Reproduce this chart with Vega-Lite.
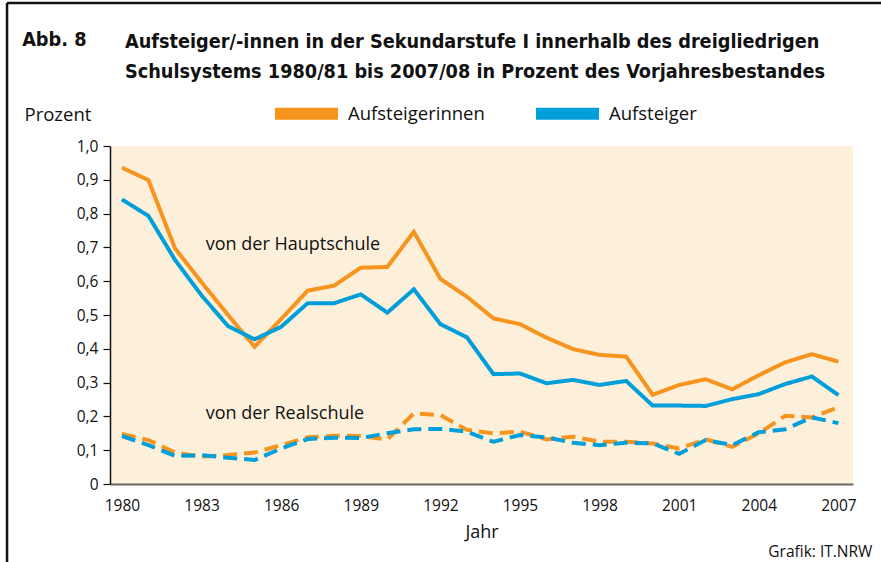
{
  "$schema": "https://vega.github.io/schema/vega-lite/v6.json",
  "width": 743,
  "height": 338,
  "autosize": {"type": "none"},
  "padding": {"left": 110, "top": 146, "right": 28, "bottom": 78},
  "background": "white",
  "config": {
    "view": {"fill": "#FDF0DB", "stroke": null},
    "font": "Open Sans",
    "locale": {"number": {"decimal": ",", "thousands": ".", "grouping": [3], "currency": ["", " €"]}},
    "axis": {"labelOverlap": false}
  },
  "title": {
    "text": ["Aufsteiger/-innen in der Sekundarstufe I innerhalb des dreigliedrigen", "Schulsystems 1980/81 bis 2007/08 in Prozent des Vorjahresbestandes"],
    "anchor": "start",
    "frame": "group",
    "dx": 15,
    "offset": -80,
    "font": "Liberation Sans Narrow, DejaVu Sans Condensed, Open Sans",
    "fontSize": 19.7,
    "fontWeight": "bold",
    "color": "#111111",
    "lineHeight": 30
  },
  "data": {
    "values": [
      {"Jahr": 1980, "Gruppe": "Aufsteigerinnen", "Schule": "Hauptschule", "Wert": 0.936},
      {"Jahr": 1981, "Gruppe": "Aufsteigerinnen", "Schule": "Hauptschule", "Wert": 0.899},
      {"Jahr": 1982, "Gruppe": "Aufsteigerinnen", "Schule": "Hauptschule", "Wert": 0.697},
      {"Jahr": 1983, "Gruppe": "Aufsteigerinnen", "Schule": "Hauptschule", "Wert": 0.597},
      {"Jahr": 1984, "Gruppe": "Aufsteigerinnen", "Schule": "Hauptschule", "Wert": 0.500},
      {"Jahr": 1985, "Gruppe": "Aufsteigerinnen", "Schule": "Hauptschule", "Wert": 0.406},
      {"Jahr": 1986, "Gruppe": "Aufsteigerinnen", "Schule": "Hauptschule", "Wert": 0.488},
      {"Jahr": 1987, "Gruppe": "Aufsteigerinnen", "Schule": "Hauptschule", "Wert": 0.572},
      {"Jahr": 1988, "Gruppe": "Aufsteigerinnen", "Schule": "Hauptschule", "Wert": 0.587},
      {"Jahr": 1989, "Gruppe": "Aufsteigerinnen", "Schule": "Hauptschule", "Wert": 0.640},
      {"Jahr": 1990, "Gruppe": "Aufsteigerinnen", "Schule": "Hauptschule", "Wert": 0.642},
      {"Jahr": 1991, "Gruppe": "Aufsteigerinnen", "Schule": "Hauptschule", "Wert": 0.746},
      {"Jahr": 1992, "Gruppe": "Aufsteigerinnen", "Schule": "Hauptschule", "Wert": 0.607},
      {"Jahr": 1993, "Gruppe": "Aufsteigerinnen", "Schule": "Hauptschule", "Wert": 0.554},
      {"Jahr": 1994, "Gruppe": "Aufsteigerinnen", "Schule": "Hauptschule", "Wert": 0.490},
      {"Jahr": 1995, "Gruppe": "Aufsteigerinnen", "Schule": "Hauptschule", "Wert": 0.473},
      {"Jahr": 1996, "Gruppe": "Aufsteigerinnen", "Schule": "Hauptschule", "Wert": 0.433},
      {"Jahr": 1997, "Gruppe": "Aufsteigerinnen", "Schule": "Hauptschule", "Wert": 0.399},
      {"Jahr": 1998, "Gruppe": "Aufsteigerinnen", "Schule": "Hauptschule", "Wert": 0.382},
      {"Jahr": 1999, "Gruppe": "Aufsteigerinnen", "Schule": "Hauptschule", "Wert": 0.377},
      {"Jahr": 2000, "Gruppe": "Aufsteigerinnen", "Schule": "Hauptschule", "Wert": 0.264},
      {"Jahr": 2001, "Gruppe": "Aufsteigerinnen", "Schule": "Hauptschule", "Wert": 0.293},
      {"Jahr": 2002, "Gruppe": "Aufsteigerinnen", "Schule": "Hauptschule", "Wert": 0.310},
      {"Jahr": 2003, "Gruppe": "Aufsteigerinnen", "Schule": "Hauptschule", "Wert": 0.280},
      {"Jahr": 2004, "Gruppe": "Aufsteigerinnen", "Schule": "Hauptschule", "Wert": 0.322},
      {"Jahr": 2005, "Gruppe": "Aufsteigerinnen", "Schule": "Hauptschule", "Wert": 0.360},
      {"Jahr": 2006, "Gruppe": "Aufsteigerinnen", "Schule": "Hauptschule", "Wert": 0.384},
      {"Jahr": 2007, "Gruppe": "Aufsteigerinnen", "Schule": "Hauptschule", "Wert": 0.362},
      {"Jahr": 1980, "Gruppe": "Aufsteiger", "Schule": "Hauptschule", "Wert": 0.842},
      {"Jahr": 1981, "Gruppe": "Aufsteiger", "Schule": "Hauptschule", "Wert": 0.793},
      {"Jahr": 1982, "Gruppe": "Aufsteiger", "Schule": "Hauptschule", "Wert": 0.663},
      {"Jahr": 1983, "Gruppe": "Aufsteiger", "Schule": "Hauptschule", "Wert": 0.558},
      {"Jahr": 1984, "Gruppe": "Aufsteiger", "Schule": "Hauptschule", "Wert": 0.467},
      {"Jahr": 1985, "Gruppe": "Aufsteiger", "Schule": "Hauptschule", "Wert": 0.428},
      {"Jahr": 1986, "Gruppe": "Aufsteiger", "Schule": "Hauptschule", "Wert": 0.465},
      {"Jahr": 1987, "Gruppe": "Aufsteiger", "Schule": "Hauptschule", "Wert": 0.535},
      {"Jahr": 1988, "Gruppe": "Aufsteiger", "Schule": "Hauptschule", "Wert": 0.535},
      {"Jahr": 1989, "Gruppe": "Aufsteiger", "Schule": "Hauptschule", "Wert": 0.561},
      {"Jahr": 1990, "Gruppe": "Aufsteiger", "Schule": "Hauptschule", "Wert": 0.507},
      {"Jahr": 1991, "Gruppe": "Aufsteiger", "Schule": "Hauptschule", "Wert": 0.576},
      {"Jahr": 1992, "Gruppe": "Aufsteiger", "Schule": "Hauptschule", "Wert": 0.473},
      {"Jahr": 1993, "Gruppe": "Aufsteiger", "Schule": "Hauptschule", "Wert": 0.434},
      {"Jahr": 1994, "Gruppe": "Aufsteiger", "Schule": "Hauptschule", "Wert": 0.325},
      {"Jahr": 1995, "Gruppe": "Aufsteiger", "Schule": "Hauptschule", "Wert": 0.327},
      {"Jahr": 1996, "Gruppe": "Aufsteiger", "Schule": "Hauptschule", "Wert": 0.298},
      {"Jahr": 1997, "Gruppe": "Aufsteiger", "Schule": "Hauptschule", "Wert": 0.308},
      {"Jahr": 1998, "Gruppe": "Aufsteiger", "Schule": "Hauptschule", "Wert": 0.293},
      {"Jahr": 1999, "Gruppe": "Aufsteiger", "Schule": "Hauptschule", "Wert": 0.305},
      {"Jahr": 2000, "Gruppe": "Aufsteiger", "Schule": "Hauptschule", "Wert": 0.232},
      {"Jahr": 2001, "Gruppe": "Aufsteiger", "Schule": "Hauptschule", "Wert": 0.232},
      {"Jahr": 2002, "Gruppe": "Aufsteiger", "Schule": "Hauptschule", "Wert": 0.231},
      {"Jahr": 2003, "Gruppe": "Aufsteiger", "Schule": "Hauptschule", "Wert": 0.251},
      {"Jahr": 2004, "Gruppe": "Aufsteiger", "Schule": "Hauptschule", "Wert": 0.266},
      {"Jahr": 2005, "Gruppe": "Aufsteiger", "Schule": "Hauptschule", "Wert": 0.296},
      {"Jahr": 2006, "Gruppe": "Aufsteiger", "Schule": "Hauptschule", "Wert": 0.318},
      {"Jahr": 2007, "Gruppe": "Aufsteiger", "Schule": "Hauptschule", "Wert": 0.263},
      {"Jahr": 1980, "Gruppe": "Aufsteigerinnen", "Schule": "Realschule", "Wert": 0.148},
      {"Jahr": 1981, "Gruppe": "Aufsteigerinnen", "Schule": "Realschule", "Wert": 0.130},
      {"Jahr": 1982, "Gruppe": "Aufsteigerinnen", "Schule": "Realschule", "Wert": 0.093},
      {"Jahr": 1983, "Gruppe": "Aufsteigerinnen", "Schule": "Realschule", "Wert": 0.081},
      {"Jahr": 1984, "Gruppe": "Aufsteigerinnen", "Schule": "Realschule", "Wert": 0.086},
      {"Jahr": 1985, "Gruppe": "Aufsteigerinnen", "Schule": "Realschule", "Wert": 0.093},
      {"Jahr": 1986, "Gruppe": "Aufsteigerinnen", "Schule": "Realschule", "Wert": 0.115},
      {"Jahr": 1987, "Gruppe": "Aufsteigerinnen", "Schule": "Realschule", "Wert": 0.138},
      {"Jahr": 1988, "Gruppe": "Aufsteigerinnen", "Schule": "Realschule", "Wert": 0.143},
      {"Jahr": 1989, "Gruppe": "Aufsteigerinnen", "Schule": "Realschule", "Wert": 0.142},
      {"Jahr": 1990, "Gruppe": "Aufsteigerinnen", "Schule": "Realschule", "Wert": 0.132},
      {"Jahr": 1991, "Gruppe": "Aufsteigerinnen", "Schule": "Realschule", "Wert": 0.209},
      {"Jahr": 1992, "Gruppe": "Aufsteigerinnen", "Schule": "Realschule", "Wert": 0.204},
      {"Jahr": 1993, "Gruppe": "Aufsteigerinnen", "Schule": "Realschule", "Wert": 0.160},
      {"Jahr": 1994, "Gruppe": "Aufsteigerinnen", "Schule": "Realschule", "Wert": 0.150},
      {"Jahr": 1995, "Gruppe": "Aufsteigerinnen", "Schule": "Realschule", "Wert": 0.155},
      {"Jahr": 1996, "Gruppe": "Aufsteigerinnen", "Schule": "Realschule", "Wert": 0.132},
      {"Jahr": 1997, "Gruppe": "Aufsteigerinnen", "Schule": "Realschule", "Wert": 0.140},
      {"Jahr": 1998, "Gruppe": "Aufsteigerinnen", "Schule": "Realschule", "Wert": 0.125},
      {"Jahr": 1999, "Gruppe": "Aufsteigerinnen", "Schule": "Realschule", "Wert": 0.125},
      {"Jahr": 2000, "Gruppe": "Aufsteigerinnen", "Schule": "Realschule", "Wert": 0.120},
      {"Jahr": 2001, "Gruppe": "Aufsteigerinnen", "Schule": "Realschule", "Wert": 0.105},
      {"Jahr": 2002, "Gruppe": "Aufsteigerinnen", "Schule": "Realschule", "Wert": 0.132},
      {"Jahr": 2003, "Gruppe": "Aufsteigerinnen", "Schule": "Realschule", "Wert": 0.110},
      {"Jahr": 2004, "Gruppe": "Aufsteigerinnen", "Schule": "Realschule", "Wert": 0.150},
      {"Jahr": 2005, "Gruppe": "Aufsteigerinnen", "Schule": "Realschule", "Wert": 0.202},
      {"Jahr": 2006, "Gruppe": "Aufsteigerinnen", "Schule": "Realschule", "Wert": 0.197},
      {"Jahr": 2007, "Gruppe": "Aufsteigerinnen", "Schule": "Realschule", "Wert": 0.227},
      {"Jahr": 1980, "Gruppe": "Aufsteiger", "Schule": "Realschule", "Wert": 0.142},
      {"Jahr": 1981, "Gruppe": "Aufsteiger", "Schule": "Realschule", "Wert": 0.115},
      {"Jahr": 1982, "Gruppe": "Aufsteiger", "Schule": "Realschule", "Wert": 0.083},
      {"Jahr": 1983, "Gruppe": "Aufsteiger", "Schule": "Realschule", "Wert": 0.085},
      {"Jahr": 1984, "Gruppe": "Aufsteiger", "Schule": "Realschule", "Wert": 0.078},
      {"Jahr": 1985, "Gruppe": "Aufsteiger", "Schule": "Realschule", "Wert": 0.071},
      {"Jahr": 1986, "Gruppe": "Aufsteiger", "Schule": "Realschule", "Wert": 0.105},
      {"Jahr": 1987, "Gruppe": "Aufsteiger", "Schule": "Realschule", "Wert": 0.133},
      {"Jahr": 1988, "Gruppe": "Aufsteiger", "Schule": "Realschule", "Wert": 0.137},
      {"Jahr": 1989, "Gruppe": "Aufsteiger", "Schule": "Realschule", "Wert": 0.136},
      {"Jahr": 1990, "Gruppe": "Aufsteiger", "Schule": "Realschule", "Wert": 0.150},
      {"Jahr": 1991, "Gruppe": "Aufsteiger", "Schule": "Realschule", "Wert": 0.162},
      {"Jahr": 1992, "Gruppe": "Aufsteiger", "Schule": "Realschule", "Wert": 0.163},
      {"Jahr": 1993, "Gruppe": "Aufsteiger", "Schule": "Realschule", "Wert": 0.155},
      {"Jahr": 1994, "Gruppe": "Aufsteiger", "Schule": "Realschule", "Wert": 0.125},
      {"Jahr": 1995, "Gruppe": "Aufsteiger", "Schule": "Realschule", "Wert": 0.145},
      {"Jahr": 1996, "Gruppe": "Aufsteiger", "Schule": "Realschule", "Wert": 0.138},
      {"Jahr": 1997, "Gruppe": "Aufsteiger", "Schule": "Realschule", "Wert": 0.122},
      {"Jahr": 1998, "Gruppe": "Aufsteiger", "Schule": "Realschule", "Wert": 0.115},
      {"Jahr": 1999, "Gruppe": "Aufsteiger", "Schule": "Realschule", "Wert": 0.122},
      {"Jahr": 2000, "Gruppe": "Aufsteiger", "Schule": "Realschule", "Wert": 0.120},
      {"Jahr": 2001, "Gruppe": "Aufsteiger", "Schule": "Realschule", "Wert": 0.089},
      {"Jahr": 2002, "Gruppe": "Aufsteiger", "Schule": "Realschule", "Wert": 0.130},
      {"Jahr": 2003, "Gruppe": "Aufsteiger", "Schule": "Realschule", "Wert": 0.115},
      {"Jahr": 2004, "Gruppe": "Aufsteiger", "Schule": "Realschule", "Wert": 0.153},
      {"Jahr": 2005, "Gruppe": "Aufsteiger", "Schule": "Realschule", "Wert": 0.162},
      {"Jahr": 2006, "Gruppe": "Aufsteiger", "Schule": "Realschule", "Wert": 0.197},
      {"Jahr": 2007, "Gruppe": "Aufsteiger", "Schule": "Realschule", "Wert": 0.180}
    ]
  },
  "layer": [
    {
      "mark": {"type": "line", "strokeWidth": 4, "strokeJoin": "miter", "strokeCap": "butt"},
      "encoding": {
        "x": {
          "field": "Jahr", "type": "quantitative",
          "scale": {"domain": [1979.55, 2007.55], "nice": false, "zero": false},
          "axis": {
            "values": [1980, 1983, 1986, 1989, 1992, 1995, 1998, 2001, 2004, 2007],
            "format": "d", "grid": false, "ticks": false, "labelOverlap": false,
            "labelPadding": 14, "labelFontSize": 15.5, "labelColor": "#111111", "labelFont": "Open Sans",
            "domainColor": "#666666", "domainWidth": 2,
            "title": "Jahr", "titleFontSize": 18, "titleFontWeight": "normal", "titleColor": "#111111", "titleFont": "Open Sans", "titlePadding": 10
          }
        },
        "y": {
          "field": "Wert", "type": "quantitative",
          "scale": {"domain": [0, 1], "nice": false},
          "axis": {
            "tickCount": 10,
            "format": ".1f",
            "labelExpr": "datum.value == 0 ? '0' : datum.label",
            "labelOverlap": false,
            "grid": false, "tickSize": 7, "tickColor": "#111111", "tickWidth": 1.2,
            "labelPadding": 5, "labelFontSize": 15.5, "labelColor": "#111111", "labelFont": "Open Sans",
            "domainColor": "#111111", "domainWidth": 1.5,
            "title": "Prozent", "titleAngle": 0, "titleAlign": "left", "titleBaseline": "alphabetic",
            "titleX": -86, "titleY": -26, "titleFontSize": 18.5, "titleFontWeight": "normal", "titleColor": "#111111", "titleFont": "Open Sans"
          }
        },
        "color": {
          "field": "Gruppe", "type": "nominal",
          "scale": {"domain": ["Aufsteigerinnen", "Aufsteiger"], "range": ["#F7941E", "#009FDA"]},
          "legend": {
            "orient": "none", "legendX": 159, "legendY": -70, "direction": "horizontal",
            "title": null, "symbolType": "stroke", "symbolStrokeWidth": 12, "symbolSize": 3969,
            "labelFontSize": 18.5, "labelFont": "Open Sans", "labelColor": "#111111", "labelOffset": 4, "columnPadding": 27
          }
        },
        "strokeDash": {
          "field": "Schule", "type": "nominal",
          "scale": {"domain": ["Hauptschule", "Realschule"], "range": [[1, 0], [14, 7]]},
          "legend": null
        },
        "detail": {"field": "Schule"}
      }
    },
    {
      "data": {"values": [{}]},
      "mark": {"type": "text", "align": "left", "baseline": "alphabetic", "fontSize": 18, "font": "Open Sans", "color": "#111111"},
      "encoding": {"x": {"datum": 1983.16}, "y": {"datum": 0.692}, "text": {"value": "von der Hauptschule"}}
    },
    {
      "data": {"values": [{}]},
      "mark": {"type": "text", "align": "left", "baseline": "alphabetic", "fontSize": 18, "font": "Open Sans", "color": "#111111"},
      "encoding": {"x": {"datum": 1983.16}, "y": {"datum": 0.192}, "text": {"value": "von der Realschule"}}
    },
    {
      "data": {"values": [{}]},
      "mark": {"type": "text", "align": "left", "baseline": "alphabetic", "fontSize": 19.7, "fontWeight": "bold", "font": "Liberation Sans Narrow, DejaVu Sans Condensed, Open Sans", "color": "#111111"},
      "encoding": {"x": {"datum": 1976.24}, "y": {"datum": 1.295}, "text": {"value": "Abb. 8"}}
    },
    {
      "data": {"values": [{}]},
      "mark": {"type": "text", "align": "right", "baseline": "alphabetic", "fontSize": 15.5, "font": "Open Sans", "color": "#111111"},
      "encoding": {"x": {"datum": 2008.28}, "y": {"datum": -0.216}, "text": {"value": "Grafik: IT.NRW"}}
    },
    {
      "data": {"values": [{}]},
      "mark": {"type": "rule", "strokeWidth": 2.5, "color": "#111111"},
      "encoding": {"x": {"datum": 1975.67}, "y": {"datum": 1.423}, "y2": {"datum": -0.24}}
    },
    {
      "data": {"values": [{}]},
      "mark": {"type": "rule", "strokeWidth": 2.5, "color": "#111111"},
      "encoding": {"x": {"datum": 1975.67}, "x2": {"datum": 2009.3}, "y": {"datum": 1.423}}
    }
  ]
}
